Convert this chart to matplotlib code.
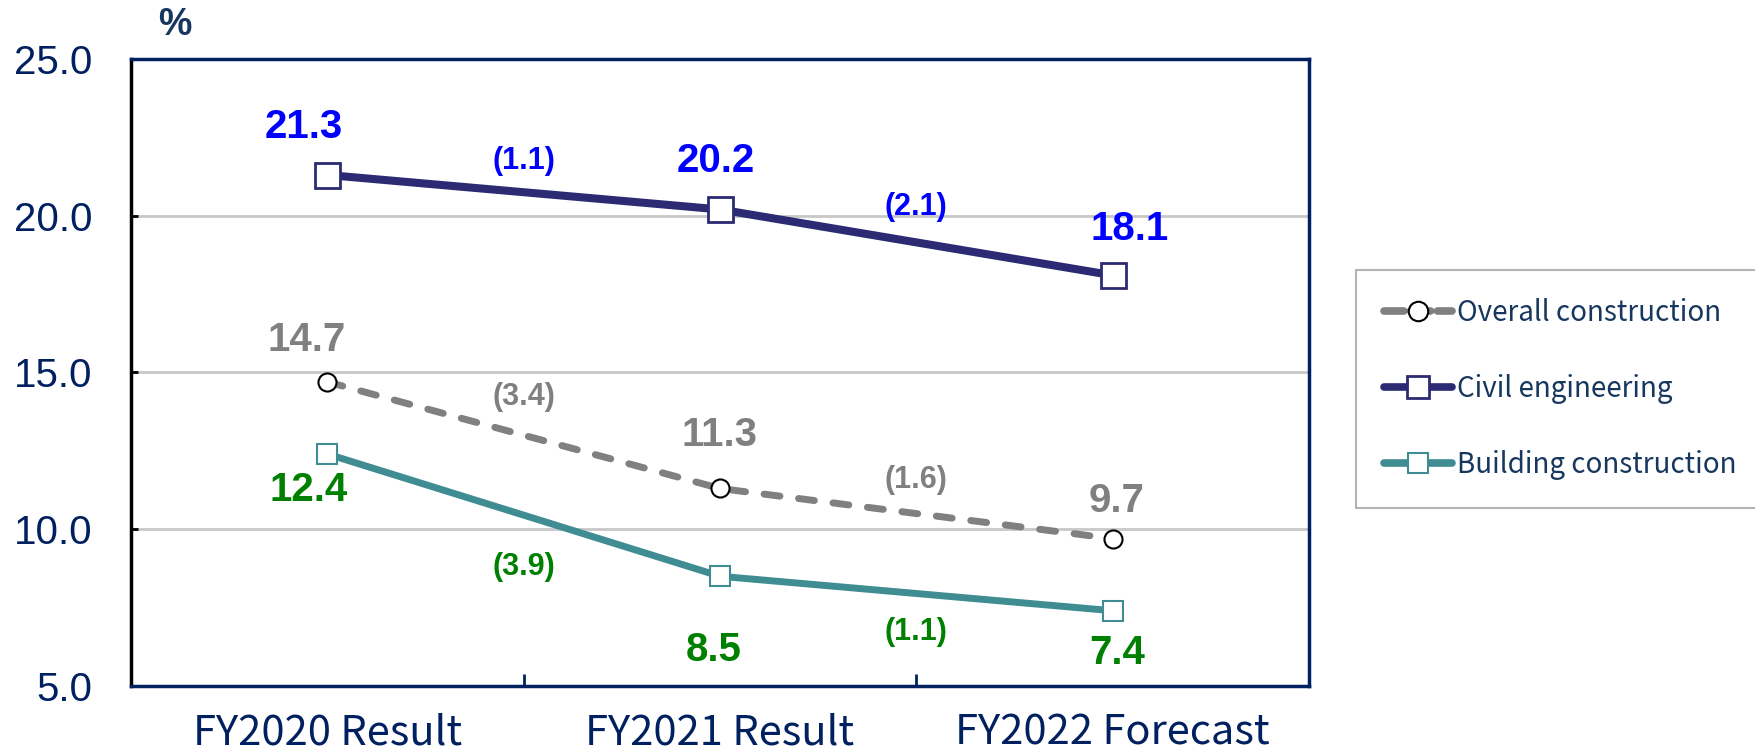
import matplotlib.pyplot as plt
import matplotlib.lines as mlines
from matplotlib import rcParams

rcParams['font.family'] = ['Noto Sans CJK JP', 'DejaVu Sans']

# データ
categories = ['FY2020 Result', 'FY2021 Result', 'FY2022 Forecast']
overall = [14.7, 11.3, 9.7]
civil = [21.3, 20.2, 18.1]
building = [12.4, 8.5, 7.4]
overall_diff = ['(3.4)', '(1.6)']
civil_diff = ['(1.1)', '(2.1)']
building_diff = ['(3.9)', '(1.1)']
yticks = [5.0, 10.0, 15.0, 20.0, 25.0]

navy = '#002060'
c_civil = '#2B2A72'
c_build = '#3F8D92'
c_over = '#808080'
narrow = ['Liberation Sans', 'DejaVu Sans']

fig = plt.figure(figsize=(17.55, 7.56), dpi=100)
ax = fig.add_axes([0.0746, 0.0926, 0.6713, 0.8294])

x = range(len(categories))

# 折れ線
ax.plot(x, overall, color=c_over, lw=5, ls=(0, (2.3, 2.7)), dash_capstyle='round',
        marker='o', ms=13, mfc='white', mec='black', mew=1.5, zorder=3)
ax.plot(x, civil, color=c_civil, lw=5.8, marker='s', ms=18, mfc='white',
        mec=c_civil, mew=2, zorder=4)
ax.plot(x, building, color=c_build, lw=5, marker='s', ms=14, mfc='white',
        mec=c_build, mew=1.5, zorder=4)

# 値ラベル (オフセットはピクセル: (dx, dy))
def val_labels(vals, offs, color):
    for i, (v, (dx, dy)) in enumerate(zip(vals, offs)):
        ax.annotate(f'{v:.1f}', (i, v), xytext=(dx * 0.72, dy * 0.72),
                    textcoords='offset points', ha='center', va='center',
                    fontsize=29, fontweight='bold', color=color, family=narrow, zorder=5)

def diff_labels(vals, diffs, offs, color):
    for i, (d, o) in enumerate(zip(diffs, offs)):
        m = (vals[i] + vals[i + 1]) / 2
        ax.annotate(d, (i + 0.5, m), xytext=(0, o * 0.72), textcoords='offset points',
                    ha='center', va='center', fontsize=22, fontweight='bold',
                    color=color, family=narrow, zorder=5)

val_labels(civil, [(-24, 48), (-4, 48), (17, 46)], '#0000FF')
val_labels(overall, [(-21, 42), (0, 53), (4, 38)], c_over)
val_labels(building, [(-19, -36), (-6, -74), (4, -42)], '#008000')
diff_labels(civil, civil_diff, [31, 35], '#0000FF')
diff_labels(overall, overall_diff, [38, 34], c_over)
diff_labels(building, building_diff, [-52, -38], '#008000')

# 軸
ax.set_xlim(-0.5, 2.5)
ax.set_ylim(5, 25)
ax.set_yticks(yticks)
ax.set_yticklabels([f'{t:.1f}' for t in yticks], family=narrow, fontsize=29, color=navy)
ax.set_xticks(list(x))
ax.set_xticklabels(categories, fontsize=30, color=navy)
ax.set_xticks([0.5, 1.5], minor=True)
ax.tick_params(axis='x', which='major', length=0, pad=19)
ax.tick_params(axis='x', which='minor', direction='in', length=9, width=2, color=navy)
ax.tick_params(axis='y', direction='in', length=5, width=2, color='black', pad=28)
ax.yaxis.grid(True, color='#C8C8C8', lw=2)
ax.set_axisbelow(True)
for s in ['top', 'right', 'bottom']:
    ax.spines[s].set_color(navy)
    ax.spines[s].set_linewidth(2.5)
ax.spines['left'].set_color('black')
ax.spines['left'].set_linewidth(2.5)

fig.text(175 / 1755, 1 - 25 / 756, '%', fontsize=27, fontweight='bold', color='#17375E',
         ha='center', va='center', family=narrow)

# 凡例
h1 = mlines.Line2D([], [], color=c_over, lw=5.5, ls=(0, (2.6, 0.9)), marker='o', ms=14,
                   mfc='white', mec='black', mew=1.5, dash_capstyle='round')
h2 = mlines.Line2D([], [], color=c_civil, lw=5.5, marker='s', ms=16,
                   mfc='white', mec=c_civil, mew=2, solid_capstyle='round')
h3 = mlines.Line2D([], [], color=c_build, lw=5.5, marker='s', ms=15,
                   mfc='white', mec=c_build, mew=1.5, solid_capstyle='round')
leg = fig.legend([h1, h2, h3], ['Overall construction', 'Civil engineering', 'Building construction'],
                 loc='upper left', bbox_to_anchor=(1356 / 1755, 1 - 270 / 756),
                 borderaxespad=0, fontsize=20, handlelength=2.45, handletextpad=0.2,
                 labelspacing=1.66, borderpad=1.0, frameon=True, fancybox=False,
                 edgecolor='#A0A0A0', labelcolor='#17375E')
leg.get_frame().set_linewidth(1.5)

plt.savefig('out.png', dpi=100)
